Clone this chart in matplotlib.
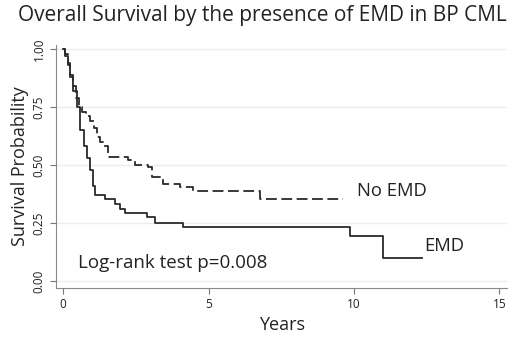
import matplotlib
matplotlib.use('Agg')
from matplotlib import pyplot as plt

# Kaplan-Meier step points (years, survival)
no_emd_t = [0, 0.07, 0.15, 0.25, 0.35, 0.45, 0.53, 0.65, 0.8, 0.93, 1.05, 1.16, 1.28, 1.38, 1.55,
            2.23, 2.47, 2.92, 3.05, 3.45, 4.02, 4.48, 6.77, 9.63]
no_emd_s = [1.0, 0.98, 0.94, 0.89, 0.84, 0.79, 0.75, 0.73, 0.71, 0.69, 0.66, 0.62, 0.60, 0.58, 0.536,
            0.52, 0.50, 0.49, 0.45, 0.42, 0.407, 0.39, 0.353, 0.353]

emd_t = [0, 0.07, 0.15, 0.25, 0.35, 0.47, 0.58, 0.70, 0.82, 0.93, 1.04, 1.1, 1.44, 1.79, 1.96,
         2.13, 2.87, 3.16, 4.13, 9.86, 10.98, 12.33]
emd_s = [1.0, 0.97, 0.93, 0.88, 0.82, 0.75, 0.65, 0.58, 0.53, 0.48, 0.41, 0.37, 0.352, 0.33, 0.31,
         0.294, 0.277, 0.251, 0.231, 0.194, 0.10, 0.10]

x_ticks = [0, 5, 10, 15]
y_ticks = [0.0, 0.25, 0.5, 0.75, 1.0]
y_tick_labels = ['0.00', '0.25', '0.50', '0.75', '1.00']

plt.rcParams['font.family'] = ['Open Sans', 'DejaVu Sans']

fig = plt.figure(figsize=(5.2, 3.47), dpi=100)
ax = fig.add_axes([0.108, 0.17, 0.867, 0.70])

for y in y_ticks:
    ax.axhline(y, color='#ececec', lw=1, zorder=0)

ax.step(no_emd_t, no_emd_s, where='post', color='#2a2a2a', lw=1.3, ls=(0, (6, 2.5)))
ax.step(emd_t, emd_s, where='post', color='#2a2a2a', lw=1.3)

ax.text(10.1, 0.39, 'No EMD', fontsize=13.3, va='center', color='#222222')
ax.text(12.4, 0.15, 'EMD', fontsize=13.3, va='center', color='#222222')
ax.text(0.52, 0.078, 'Log-rank test p=0.008', fontsize=13.5, va='center', color='#222222')

ax.set_xlim(-0.24, 15.26)
ax.set_ylim(-0.03, 1.017)
ax.set_xticks(x_ticks)
ax.set_yticks(y_ticks)
ax.set_yticklabels(y_tick_labels, rotation=90, va='center')
ax.tick_params(colors='#777777', labelcolor='#222222', labelsize=8.5, length=4)

for side in ['top', 'right']:
    ax.spines[side].set_visible(False)
for side in ['left', 'bottom']:
    ax.spines[side].set_color('#888888')

ax.set_xlabel('Years', fontsize=13, color='#222222', labelpad=3)
ax.set_ylabel('Survival Probability', fontsize=13, color='#222222', labelpad=3)
fig.text(0.505, 0.955, 'Overall Survival by the presence of EMD in BP CML', fontsize=15,
         ha='center', va='center', color='#222222')

fig.savefig('out.png', dpi=100)
